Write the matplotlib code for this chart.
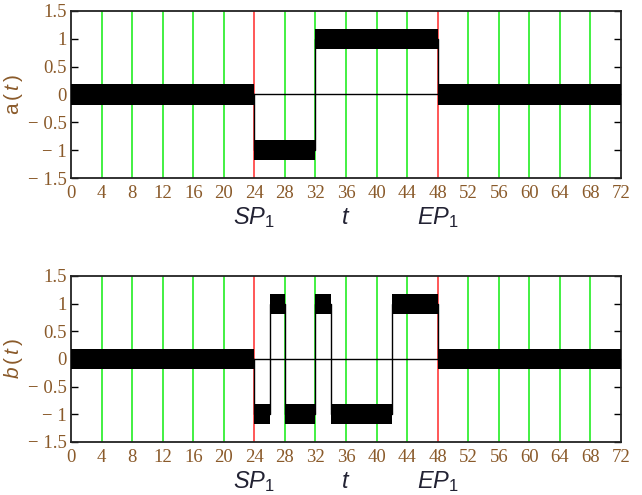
import matplotlib
matplotlib.use("Agg")
import matplotlib.pyplot as plt
import numpy as np

# signal levels between switching times
a_edges = [0, 24, 32, 48, 72]
a_levels = [0, -1, 1, 0]
b_edges = [0, 24, 26, 28, 32, 34, 42, 48, 72]
b_levels = [0, -1, 1, -1, 1, -1, 1, 0]
noise_band = 0.18  # half-width of the noise around each level

x_ticks = list(range(0, 73, 4))
y_ticks = [-1.5, -1, -0.5, 0, 0.5, 1, 1.5]
y_ticklabels = ["\u2212 1.5", "\u2212 1", "\u2212 0.5", "0", "0.5", "1", "1.5"]
red_lines = [24, 48]
green_lines = [x for x in x_ticks if x not in red_lines and 0 < x < 72]
markers = [(24, r"$SP_1$"), (36, r"$t$"), (48, r"$EP_1$")]

plt.rcParams["font.family"] = "Liberation Serif"
plt.rcParams["mathtext.fontset"] = "custom"
plt.rcParams["mathtext.rm"] = "Liberation Sans"
plt.rcParams["mathtext.it"] = "Liberation Sans:italic"

tick_color = "#8a5a2a"

fig = plt.figure(figsize=(6.42, 4.95), dpi=100)
ax_a = fig.add_axes([0.1106, 0.6404, 0.8567, 0.3374])
ax_b = fig.add_axes([0.1106, 0.1071, 0.8567, 0.3354])


def draw(ax, edges, levels, ylabel):
    for x in green_lines:
        ax.axvline(x, color="#22ee22", lw=1.2, zorder=1)
    for x in red_lines:
        ax.axvline(x, color="#ff3b3b", lw=1.2, zorder=1)
    ax.axhline(0, color="black", lw=1.0, zorder=2)

    # step trace and noise band
    xs = np.array(edges)
    ys = np.array(levels + [levels[-1]])
    ax.step(xs, ys, where="post", color="black", lw=1.0, zorder=3)
    ax.fill_between(xs, ys - noise_band, ys + noise_band, step="post",
                    color="black", lw=0, zorder=3)

    ax.set_xlim(0, 72)
    ax.set_ylim(-1.5, 1.5)
    ax.set_xticks(x_ticks)
    ax.set_yticks(y_ticks)
    ax.set_yticklabels(y_ticklabels)
    ax.tick_params(axis="x", length=0, pad=5, labelsize=13.5,
                   labelcolor=tick_color)
    ax.tick_params(axis="y", direction="in", length=5, width=1.0,
                   right=True, pad=3, labelsize=13.5, labelcolor=tick_color)
    for sp in ax.spines.values():
        sp.set_linewidth(1.3)
        sp.set_color("#222222")

    ax.set_ylabel(ylabel, fontsize=15, color=tick_color, labelpad=2)

    for x, txt in markers:
        ax.annotate(txt, xy=(x, 0), xycoords=ax.get_xaxis_transform(),
                    xytext=(0, -33), textcoords="offset points",
                    ha="center", va="baseline", fontsize=17, color="#222233")


draw(ax_a, a_edges, a_levels, r"$\mathrm{a}\,(\,t\,)$")
draw(ax_b, b_edges, b_levels, r"$b\,(\,t\,)$")

fig.savefig("out.png", dpi=100)
